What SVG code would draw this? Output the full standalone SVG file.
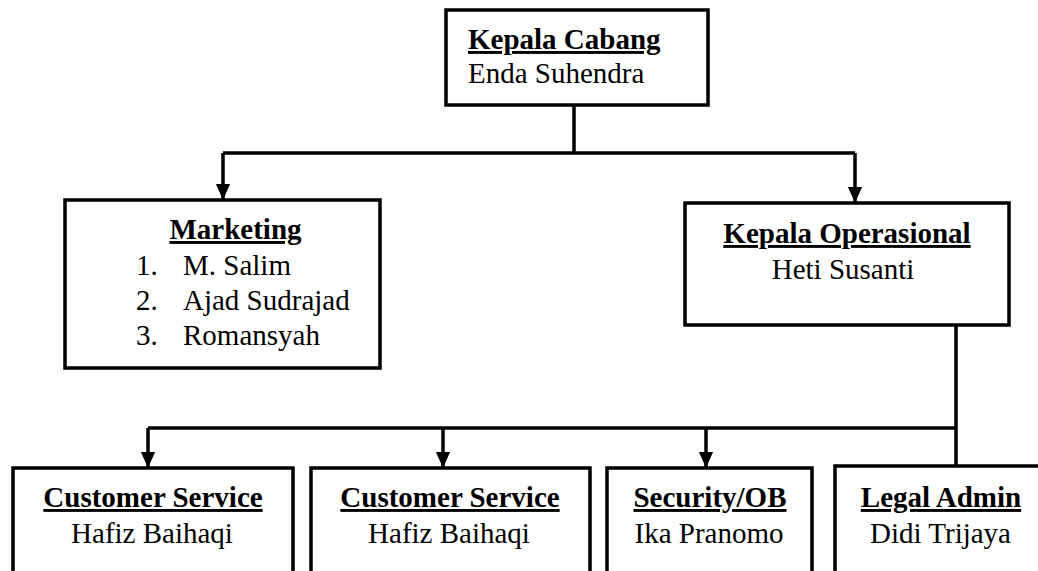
<svg xmlns="http://www.w3.org/2000/svg" width="1038" height="571" viewBox="0 0 1038 571">
<style>
.box{fill:#fff;stroke:#000;stroke-width:3.5}
.t{font-family:"Liberation Serif","Times New Roman",serif;font-size:29px;fill:#000}
.h{font-weight:bold;text-decoration:underline}
.c{text-anchor:middle}
.ln{fill:none;stroke:#000;stroke-width:3.5}
</style>
<defs>
<marker id="ah" markerUnits="userSpaceOnUse" markerWidth="16" markerHeight="18" refX="17" refY="8" orient="auto" viewBox="0 0 18 16">
<path d="M0,0 L18,8 L0,16 Z" fill="#000"/>
</marker>
</defs>
<rect width="1038" height="571" fill="#fff"/>
<g id="connectors">
<path class="ln" d="M574,105 V153"/>
<path class="ln" d="M223,153 H855"/>
<path class="ln" d="M223,153 V199" marker-end="url(#ah)"/>
<path class="ln" d="M855,153 V202" marker-end="url(#ah)"/>
<path class="ln" d="M956,325 V466"/>
<path class="ln" d="M148,428 H956"/>
<path class="ln" d="M148,428 V467" marker-end="url(#ah)"/>
<path class="ln" d="M443,428 V467" marker-end="url(#ah)"/>
<path class="ln" d="M706,428 V467" marker-end="url(#ah)"/>
</g>
<g id="kepala-cabang">
<rect class="box" x="446" y="10" width="262" height="95"/>
<text class="t h" x="468" y="49">Kepala Cabang</text>
<text class="t" x="468" y="83">Enda Suhendra</text>
</g>
<g id="marketing">
<rect class="box" x="65" y="200" width="315" height="168"/>
<text class="t h c" x="235.5" y="239">Marketing</text>
<text class="t" x="136" y="275">1.</text>
<text class="t" x="183" y="275">M. Salim</text>
<text class="t" x="136" y="310">2.</text>
<text class="t" x="183" y="310">Ajad Sudrajad</text>
<text class="t" x="136" y="345">3.</text>
<text class="t" x="183" y="345">Romansyah</text>
</g>
<g id="kepala-operasional">
<rect class="box" x="685" y="203" width="324" height="122"/>
<text class="t h c" x="847" y="243">Kepala Operasional</text>
<text class="t c" x="843" y="279">Heti Susanti</text>
</g>
<g id="cs1">
<rect class="box" x="13" y="468" width="280" height="130"/>
<text class="t h c" x="153" y="507">Customer Service</text>
<text class="t c" x="152" y="543">Hafiz Baihaqi</text>
</g>
<g id="cs2">
<rect class="box" x="311" y="468" width="279" height="130"/>
<text class="t h c" x="450" y="507">Customer Service</text>
<text class="t c" x="449" y="543">Hafiz Baihaqi</text>
</g>
<g id="security">
<rect class="box" x="607" y="468" width="205" height="130"/>
<text class="t h c" x="710" y="507">Security/OB</text>
<text class="t c" x="709" y="543">Ika Pranomo</text>
</g>
<g id="legal-admin">
<rect class="box" x="835" y="466" width="220" height="130"/>
<text class="t h c" x="941" y="507">Legal Admin</text>
<text class="t c" x="940.5" y="543">Didi Trijaya</text>
</g>
</svg>
